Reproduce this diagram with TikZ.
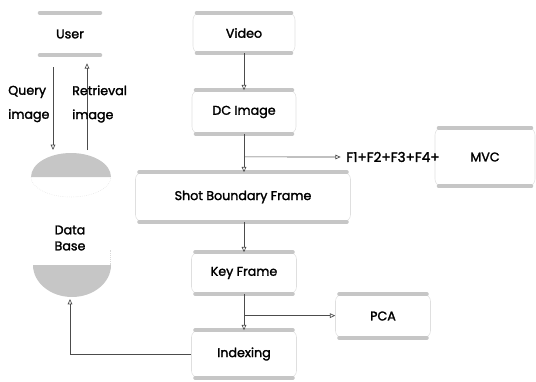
\documentclass[tikz,border=0pt]{standalone}
\usepackage{fontspec}
\setmainfont{Poppins}[FakeBold=1.8]
\usetikzlibrary{arrows.meta,calc}

\tikzset{
  blk/.style={rounded corners=5pt, draw=gray!25, line width=0.4pt,
    font=\fontsize{9.5}{11}\selectfont, inner sep=0pt},
  rim/.style={draw=gray!45, line width=3pt, line cap=round},
  arr/.style={draw=black!70, line width=0.5pt, -{Triangle[open,length=4pt,width=3.5pt]}},
  lbl/.style={font=\fontsize{9.5}{18}\selectfont, align=left, inner sep=0pt},
  dbcap/.style={fill=gray!45},
}

\begin{document}
\begin{tikzpicture}[x=0.75pt,y=0.75pt]
  \useasboundingbox (0,0) rectangle (536,-382);

  % main chain
  \node[blk, minimum width=76.5pt, minimum height=30pt] (video) at (244,-33) {Video};
  \node[blk, minimum width=78pt, minimum height=32.25pt] (dc) at (244,-112) {DC Image};
  \node[blk, minimum width=161.25pt, minimum height=36.75pt] (sbf) at (243,-197) {Shot Boundary Frame};
  \node[blk, minimum width=78.75pt, minimum height=30.75pt] (key) at (244,-273) {Key Frame};
  \node[blk, minimum width=78.75pt, minimum height=35.25pt] (idx) at (244,-354) {Indexing};

  % side boxes
  \node[blk, minimum width=71.25pt, minimum height=32.25pt] (pca) at (383,-316) {PCA};
  \node[blk, minimum width=75pt, minimum height=43.5pt] (mvc) at (485,-157) {MVC};
  \node[font=\fontsize{10.2}{11}\selectfont, anchor=west, inner sep=0pt] (feat) at (346,-157) {F1+F2+F3+F4+};

  % user and data base
  \node[blk, draw=none, minimum width=51pt, minimum height=31.5pt] (user) at (70,-34) {User};
  \node[lbl, align=center] (db) at (70,-238) {Data\\[-6pt]Base};
  \fill[dbcap] (31,-177) arc[start angle=180, end angle=0, x radius=40, y radius=24] -- cycle;
  \draw[gray!25, densely dotted] (31,-177) arc[start angle=180, end angle=360, x radius=40, y radius=20];
  \fill[dbcap] (33,-265) arc[start angle=180, end angle=360, x radius=39, y radius=32] -- cycle;
  \draw[gray!30, densely dotted] (110,-265) -- (110,-250);
  \coordinate (dbtop) at (71,-150);
  \coordinate (dbbot) at (70,-299);

  % heavy top and bottom edges of the boxes
  \foreach \n in {user,video,dc,sbf,key,idx,pca,mvc}{
    \draw[rim] ([xshift=3pt]\n.north west) -- ([xshift=-3pt]\n.north east);
    \draw[rim] ([xshift=3pt]\n.south west) -- ([xshift=-3pt]\n.south east);
  }

  % flow
  \draw[arr] (video.south) -- (dc.north);
  \draw[arr] (dc.south) -- (dc.south |- sbf.north);
  \coordinate (b1) at ($(dc.south)!0.6!(dc.south |- sbf.north)$);
  \draw[arr] (b1) -- ([xshift=-4pt]feat.west);
  \draw[arr] (sbf.south -| key.north) -- (key.north);
  \draw[arr] (key.south) -- (idx.north);
  \coordinate (b2) at ($(key.south)!0.6!(idx.north)$);
  \draw[arr] (b2) -- (b2 -| pca.west);
  \draw[arr] (idx.west) -| (dbbot);

  % query and retrieval
  \draw[arr] ([xshift=-12.75pt,yshift=-9pt]user.south) -- ([xshift=-13.5pt]dbtop);
  \draw[arr] ([xshift=12pt]dbtop) -- ([xshift=12.75pt,yshift=-6pt]user.south);
  \node[lbl, anchor=west] (qlbl) at (8,-104) {Query\\image};
  \node[lbl, anchor=west] (rlbl) at (72,-104) {Retrieval\\image};
\end{tikzpicture}
\end{document}
